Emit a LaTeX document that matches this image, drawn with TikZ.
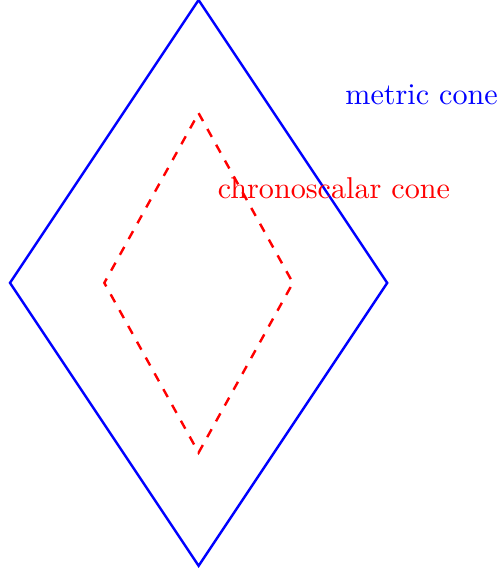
\documentclass[tikz,border=0pt]{standalone}
\usepackage{tikz}

\begin{document}
\begin{tikzpicture}[scale=1.1,
  metric/.style={draw=blue, thick},
  chrono/.style={draw=red, thick, dashed},
  lbl/.style={inner sep=0pt}
]
\useasboundingbox (-2.106,-3.055) rectangle (3.186,3.0);
\draw[metric] (0,3) -- (2,0) -- (0,-3) -- (-2,0) -- cycle;
\draw[chrono] (0,1.8) -- (1,0) -- (0,-1.8) -- (-1,0) -- cycle;
\node[lbl, text=blue] (metriclbl) at (2.365,2) {metric cone};
\node[lbl, text=red] (chronolbl) at (1.435,1) {chronoscalar cone};
\end{tikzpicture}
\end{document}
